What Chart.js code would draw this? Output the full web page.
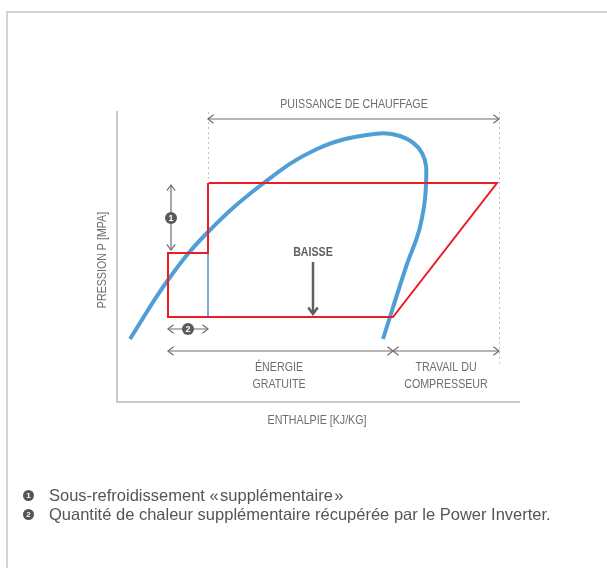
<!DOCTYPE html>
<html lang="fr">
<head>
<meta charset="utf-8">
<script src="https://cdn.jsdelivr.net/npm/chart.js@4.4.1/dist/chart.umd.min.js"></script>
<style>
  html, body { margin: 0; padding: 0; background: #fff; }
  body { width: 607px; height: 568px; position: relative; overflow: hidden; font-family: "Liberation Sans", Arial, sans-serif; }
  .cadre { position: absolute; left: 6px; top: 11px; width: 700px; height: 700px; border-left: 2px solid #d4d4d4; border-top: 2px solid #d4d4d4; }
  #zone { position: absolute; left: 0; top: 0; }
  .legende { position: absolute; left: 23px; top: 486px; font-size: 16.5px; color: #555; line-height: 19px; }
  .legende div { display: flex; align-items: center; white-space: nowrap; }
  .puce { display: inline-block; width: 11px; height: 11px; border-radius: 50%; background: #555; color: #fff; font-size: 8px; font-weight: bold; text-align: center; line-height: 11px; margin-right: 15px; }
</style>
</head>
<body>
<div class="cadre"></div>
<canvas id="zone" width="607" height="568"></canvas>
<div class="legende">
  <div><span class="puce">1</span>Sous-refroidissement «&#8202;supplémentaire&#8202;»</div>
  <div><span class="puce">2</span>Quantité de chaleur supplémentaire récupérée par le Power Inverter.</div>
</div>
<script>
// ==============================
// Données du diagramme (enthalpie / pression, unités relatives)
// ==============================
// Cycle frigorifique (rouge)
const enthalpieCycle = [91, 380, 276, 51, 51, 91, 91];
const pressionCycle  = [219, 219, 85, 85, 149, 149, 219];

// Courbe de saturation (bleue)
const enthalpieSaturation = [13, 51, 91, 148, 200, 250, 283, 305, 309, 303, 289, 266];
const pressionSaturation  = [63, 122, 170, 220, 253, 267, 266, 249, 217, 175, 135, 63];

// Trait du sous-refroidissement (bleu fin)
const enthalpieSousRefroid = [91, 91];
const pressionSousRefroid  = [149, 85];

// Repères d'enthalpie utilisés par les flèches
const hDebut = 51, hCond = 91, hEvap = 276, hFin = 382;

function points(xs, ys) {
  return xs.map((x, i) => ({ x: x, y: ys[i] }));
}

const GRIS = '#6e6e6e';
const SERRE = 0.82; // police condensée simulée

// ==============================
// Dessin des flèches et des textes
// ==============================
function tete(ctx, x, y, angle, t) {
  ctx.beginPath();
  ctx.moveTo(x + Math.cos(angle + 2.5) * t, y + Math.sin(angle + 2.5) * t);
  ctx.lineTo(x, y);
  ctx.lineTo(x + Math.cos(angle - 2.5) * t, y + Math.sin(angle - 2.5) * t);
  ctx.stroke();
}

function fleche(ctx, x1, y1, x2, y2, double, t) {
  ctx.beginPath();
  ctx.moveTo(x1, y1);
  ctx.lineTo(x2, y2);
  ctx.stroke();
  const a = Math.atan2(y2 - y1, x2 - x1);
  tete(ctx, x2, y2, a, t);
  if (double) tete(ctx, x1, y1, a + Math.PI, t);
}

function pastille(ctx, x, y, n) {
  ctx.fillStyle = '#5a5a5a';
  ctx.beginPath();
  ctx.arc(x, y, 6, 0, Math.PI * 2);
  ctx.fill();
  ctx.fillStyle = '#fff';
  ctx.font = 'bold 9px "Liberation Sans", sans-serif';
  ctx.textAlign = 'center';
  ctx.textBaseline = 'middle';
  ctx.fillText(n, x, y + 0.5);
}

function texte(ctx, s, x, y, rot) {
  ctx.save();
  ctx.translate(x, y);
  if (rot) ctx.rotate(rot);
  ctx.scale(SERRE, 1);
  ctx.fillText(s, 0, 0);
  ctx.restore();
}

const annotations = {
  id: 'annotations',
  afterDatasetsDraw(chart) {
    const ctx = chart.ctx;
    const sx = v => chart.scales.x.getPixelForValue(v);
    const sy = v => chart.scales.y.getPixelForValue(v);
    ctx.save();

    // pointillés verticaux
    ctx.strokeStyle = '#c4c4c4';
    ctx.lineWidth = 1;
    ctx.setLineDash([2, 3]);
    ctx.beginPath();
    ctx.moveTo(Math.round(sx(hCond)) + 0.5, sy(290));
    ctx.lineTo(Math.round(sx(hCond)) + 0.5, sy(219));
    ctx.moveTo(Math.round(sx(hFin)) + 0.5, sy(290));
    ctx.lineTo(Math.round(sx(hFin)) + 0.5, sy(36));
    ctx.stroke();
    ctx.setLineDash([]);

    // flèches fines
    ctx.strokeStyle = GRIS;
    ctx.lineWidth = 1.2;
    fleche(ctx, sx(hCond), sy(283), sx(hFin), sy(283), true, 7);
    fleche(ctx, sx(hDebut), sy(51), sx(hEvap), sy(51), true, 7);
    fleche(ctx, sx(hEvap), sy(51), sx(hFin), sy(51), true, 7);
    fleche(ctx, sx(54), sy(217), sx(54), sy(152), true, 7);
    fleche(ctx, sx(hDebut), sy(73), sx(hCond), sy(73), true, 7);

    // flèche BAISSE
    ctx.strokeStyle = '#5f5f5f';
    ctx.lineWidth = 2.5;
    fleche(ctx, sx(196), sy(140), sx(196), sy(88), false, 8);

    pastille(ctx, sx(54), sy(184), '1');
    pastille(ctx, sx(71), sy(73), '2');

    // textes
    ctx.fillStyle = GRIS;
    ctx.textAlign = 'center';
    ctx.textBaseline = 'middle';
    ctx.font = '13px "Liberation Sans", Arial, sans-serif';
    texte(ctx, 'PUISSANCE DE CHAUFFAGE', sx(237), sy(298));
    texte(ctx, 'ÉNERGIE', sx(162), sy(35));
    texte(ctx, 'GRATUITE', sx(162), sy(18));
    texte(ctx, 'TRAVAIL DU', sx(329), sy(35));
    texte(ctx, 'COMPRESSEUR', sx(329), sy(18));
    texte(ctx, 'ENTHALPIE [KJ/KG]', sx(200), sy(-18));
    texte(ctx, 'PRESSION P [MPA]', sx(-15), sy(142), -Math.PI / 2);

    ctx.fillStyle = '#5f5f5f';
    ctx.font = 'bold 13px "Liberation Sans", Arial, sans-serif';
    texte(ctx, 'BAISSE', sx(196), sy(150));

    ctx.restore();
  }
};

new Chart(document.getElementById('zone'), {
  type: 'scatter',
  data: {
    datasets: [
      {
        label: 'Cycle',
        data: points(enthalpieCycle, pressionCycle),
        showLine: true,
        borderColor: '#ec1c24',
        borderWidth: 2,
        pointRadius: 0,
        tension: 0,
        order: 0
      },
      {
        label: 'Sous-refroidissement',
        data: points(enthalpieSousRefroid, pressionSousRefroid),
        showLine: true,
        borderColor: '#6fb0de',
        borderWidth: 2,
        pointRadius: 0,
        order: 1
      },
      {
        label: 'Saturation',
        data: points(enthalpieSaturation, pressionSaturation),
        showLine: true,
        borderColor: '#4f9fd6',
        borderWidth: 4,
        pointRadius: 0,
        tension: 0.4,
        order: 2
      }
    ]
  },
  options: {
    responsive: false,
    animation: false,
    events: [],
    layout: { padding: { left: 117, top: 112, right: 88, bottom: 166 } },
    plugins: { legend: { display: false }, tooltip: { enabled: false } },
    scales: {
      x: {
        type: 'linear', min: 0, max: 402,
        ticks: { display: false },
        grid: { display: false, drawTicks: false },
        border: { display: true, color: '#c9c9c9', width: 2 }
      },
      y: {
        type: 'linear', min: 0, max: 290,
        ticks: { display: false },
        grid: { display: false, drawTicks: false },
        border: { display: true, color: '#c9c9c9', width: 2 }
      }
    }
  },
  plugins: [annotations]
});
</script>
</body>
</html>
